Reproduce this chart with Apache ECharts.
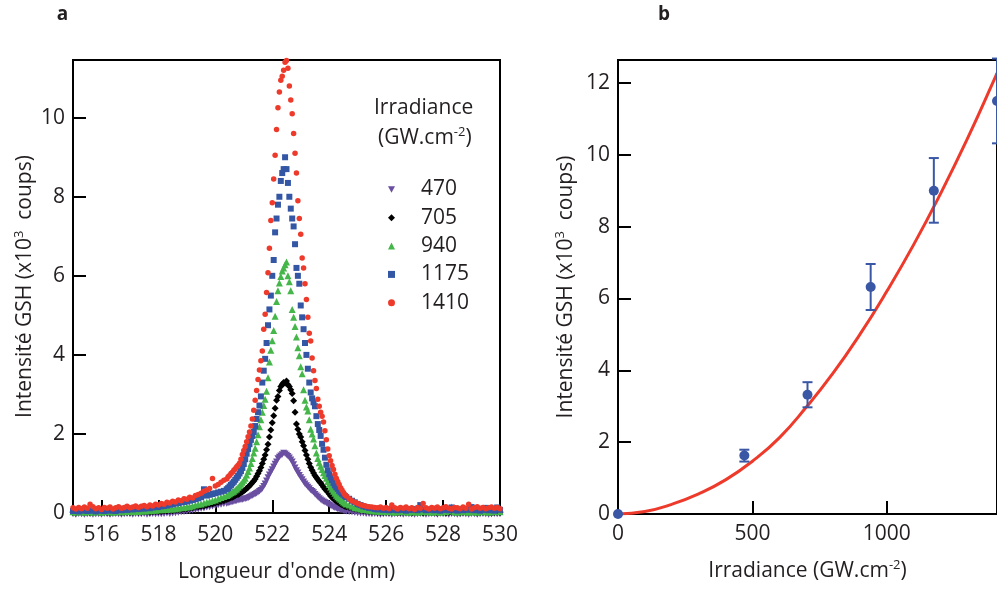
<!DOCTYPE html>
<html>
<head>
<meta charset="utf-8">
<script src="https://cdn.jsdelivr.net/npm/echarts@6/dist/echarts.min.js"></script>
<style>html,body{margin:0;padding:0;background:#fff}#c{width:997px;height:589px}</style>
</head>
<body>
<div id="c"></div>
<script>
// ---------- Panel a : wavelength sampling (nm) ----------
const wlLeft = [515,515.1,515.2,515.3,515.4,515.5,515.6,515.7,515.8,515.9,
516,516.1,516.2,516.3,516.4,516.5,516.6,516.7,516.8,516.9,
517,517.1,517.2,517.3,517.4,517.5,517.6,517.7,517.8,517.9,
518,518.1,518.2,518.3,518.4,518.5,518.6,518.7,518.8,518.9,
519,519.1,519.2,519.3,519.4,519.5,519.6,519.7,519.8,519.9,
520,520.1,520.2,520.3];
const wlCore = [520.4,520.45,520.5,520.55,520.6,520.65,520.7,520.75,520.8,520.85,520.9,520.95,
521,521.05,521.1,521.15,521.2,521.25,521.3,521.35,521.4,521.45,521.5,521.55,521.6,521.65,521.7,521.75,521.8,521.85,521.9,521.95,
522,522.05,522.1,522.15,522.2,522.25,522.3,522.35,522.4,522.45,522.5,522.55,522.6,522.65,522.7,522.75,522.8,522.85,522.9,522.95,
523,523.05,523.1,523.15,523.2,523.25,523.3,523.35,523.4,523.45,523.5,523.55,523.6,523.65,523.7,523.75,523.8,523.85,523.9,523.95,
524,524.05,524.1,524.15,524.2,524.25,524.3,524.35,524.4,524.45,524.5,524.55,524.6];
const wlRight = [524.7,524.8,524.9,
525,525.1,525.2,525.3,525.4,525.5,525.6,525.7,525.8,525.9,
526,526.1,526.2,526.3,526.4,526.5,526.6,526.7,526.8,526.9,
527,527.1,527.2,527.3,527.4,527.5,527.6,527.7,527.8,527.9,
528,528.1,528.2,528.3,528.4,528.5,528.6,528.7,528.8,528.9,
529,529.1,529.2,529.3,529.4,529.5,529.6,529.7,529.8,529.9,
530];

// ---------- Panel a : GSH intensity (x10^3 counts) per irradiance ----------
const gsh470 = [-0.03,-0.04,-0.02,-0.03,-0.04,-0.03,-0.02,-0.04,-0.03,-0.03,
-0.04,-0.02,-0.03,-0.04,-0.03,-0.02,-0.03,-0.04,-0.03,-0.02,
-0.03,-0.04,-0.02,-0.03,-0.03,-0.02,-0.04,-0.03,-0.02,-0.03,
-0.02,-0.03,-0.02,-0.01,-0.02,-0.01,0.00,0.01,0.02,0.03,
0.04,0.05,0.07,0.08,0.09,0.11,0.12,0.14,0.15,0.17,
0.18,0.20,0.21,0.23,
0.24,0.25,0.26,0.27,0.28,0.29,0.30,0.31,0.32,0.33,0.33,0.34,
0.35,0.36,0.37,0.38,0.40,0.42,0.44,0.46,0.48,0.50,0.52,0.55,0.58,0.62,0.68,0.74,0.82,0.90,0.97,1.04,
1.10,1.17,1.24,1.30,1.38,1.42,1.45,1.48,1.52,1.50,1.47,1.44,1.40,1.35,1.30,1.23,1.15,1.08,1.02,0.96,
0.90,0.85,0.79,0.74,0.70,0.66,0.62,0.58,0.55,0.52,0.48,0.44,0.41,0.37,0.34,0.31,0.29,0.27,0.25,0.23,
0.21,0.19,0.17,0.15,0.13,0.12,0.10,0.09,0.08,0.07,0.06,0.05,0.04,
0.03,0.02,0.01,
0.00,-0.01,-0.01,-0.02,-0.02,-0.03,-0.02,-0.03,-0.04,-0.03,
-0.02,-0.03,-0.04,-0.03,-0.02,-0.03,-0.04,-0.02,-0.03,-0.03,
-0.04,-0.03,-0.02,-0.03,-0.04,-0.03,-0.02,-0.03,-0.04,-0.02,
-0.03,-0.03,-0.04,-0.02,-0.03,-0.04,-0.03,-0.02,-0.03,-0.04,
-0.02,-0.03,-0.04,-0.03,-0.02,-0.03,-0.04,-0.03,-0.02,-0.03,
-0.03];
const gsh705 = [0.01,0.00,0.02,0.01,0.01,0.02,0.00,0.01,0.02,0.01,
0.01,0.02,0.01,0.00,0.02,0.01,0.02,0.01,0.02,0.02,
0.01,0.02,0.03,0.02,0.02,0.03,0.03,0.02,0.03,0.04,
0.04,0.04,0.05,0.05,0.06,0.06,0.07,0.08,0.09,0.10,
0.11,0.12,0.13,0.15,0.16,0.17,0.18,0.20,0.22,0.23,
0.25,0.27,0.29,0.31,
0.34,0.36,0.37,0.39,0.40,0.42,0.44,0.46,0.47,0.49,0.51,0.53,
0.56,0.59,0.62,0.65,0.69,0.73,0.77,0.81,0.86,0.93,1.00,1.07,1.15,1.25,1.36,1.47,1.60,1.74,1.92,2.10,
2.28,2.46,2.65,2.85,2.95,3.10,3.20,3.26,3.30,3.28,3.34,3.25,3.20,3.12,3.02,2.84,2.55,2.25,2.12,2.00,
1.92,1.80,1.70,1.58,1.47,1.36,1.25,1.16,1.08,1.01,0.95,0.90,0.85,0.80,0.76,0.71,0.66,0.61,0.57,0.53,
0.48,0.43,0.39,0.36,0.33,0.30,0.28,0.25,0.23,0.21,0.19,0.17,0.16,
0.14,0.12,0.10,
0.08,0.07,0.06,0.05,0.04,0.03,0.03,0.02,0.02,0.01,
0.02,0.01,0.01,0.02,0.00,0.01,0.02,0.01,0.01,0.00,
0.01,0.02,0.01,0.00,0.01,0.02,0.01,0.01,0.00,0.02,
0.01,0.00,0.01,0.02,0.01,0.01,0.00,0.02,0.01,0.01,
0.02,0.01,0.00,0.01,0.02,0.01,0.01,0.00,0.01,0.02,
0.01];
const gsh940 = [0.03,0.02,0.04,0.03,0.02,0.04,0.03,0.02,0.03,0.04,
0.02,0.03,0.04,0.03,0.02,0.03,0.04,0.03,0.03,0.04,
0.04,0.03,0.05,0.04,0.05,0.05,0.06,0.06,0.07,0.07,
0.08,0.08,0.09,0.09,0.10,0.10,0.11,0.12,0.13,0.14,
0.15,0.16,0.18,0.20,0.22,0.23,0.25,0.27,0.29,0.31,
0.33,0.36,0.39,0.42,
0.44,0.46,0.49,0.51,0.53,0.55,0.58,0.61,0.65,0.69,0.73,0.78,
0.83,0.88,0.96,1.05,1.14,1.25,1.38,1.52,1.64,1.80,1.98,2.18,2.36,2.55,2.72,2.88,3.08,3.42,3.82,4.12,
4.36,4.62,4.98,5.35,5.62,5.82,5.98,6.12,6.20,6.28,6.35,6.00,5.85,5.62,5.15,4.95,4.72,4.45,4.18,3.98,
3.70,3.52,3.12,2.85,2.68,2.58,2.36,2.12,2.00,1.87,1.70,1.52,1.38,1.27,1.18,1.10,1.02,0.95,0.88,0.80,
0.73,0.66,0.60,0.55,0.50,0.45,0.41,0.38,0.35,0.31,0.28,0.25,0.23,
0.20,0.17,0.14,
0.12,0.10,0.09,0.08,0.07,0.06,0.05,0.05,0.04,0.04,
0.03,0.04,0.03,0.02,0.04,0.03,0.05,0.03,0.02,0.04,
0.03,0.02,0.04,0.03,0.05,0.03,0.02,0.04,0.03,0.02,
0.04,0.03,0.05,0.15,0.03,0.02,0.04,0.03,0.05,0.02,
0.03,0.04,0.02,0.03,0.05,0.03,0.02,0.04,0.03,0.12,
0.03];
const gsh1175 = [0.05,0.07,0.04,0.06,0.08,0.05,0.07,0.06,0.04,0.07,
0.06,0.05,0.08,0.06,0.07,0.05,0.08,0.07,0.09,0.08,
0.10,0.09,0.11,0.10,0.12,0.11,0.13,0.12,0.14,0.15,
0.15,0.17,0.18,0.19,0.21,0.22,0.24,0.25,0.27,0.28,
0.29,0.31,0.33,0.35,0.37,0.40,0.60,0.44,0.46,0.48,
0.50,0.52,0.54,0.56,
0.60,0.63,0.67,0.71,0.75,0.79,0.84,0.89,0.94,1.00,1.06,1.14,
1.24,1.36,1.50,1.62,1.74,1.85,1.95,2.05,2.20,2.38,2.55,2.72,2.95,3.30,3.60,3.90,4.30,4.75,5.15,5.50,
6.00,6.40,7.10,7.45,7.80,8.00,8.40,8.60,8.70,9.00,8.70,8.35,8.00,7.70,7.45,7.25,6.80,6.20,6.00,5.80,
5.25,4.95,4.65,4.30,4.00,3.65,3.30,3.05,2.90,2.80,2.70,2.45,2.25,2.10,1.95,1.75,1.60,1.40,1.22,1.08,
0.98,0.90,0.83,0.76,0.70,0.65,0.61,0.56,0.52,0.49,0.46,0.43,0.40,
0.36,0.31,0.27,
0.23,0.20,0.17,0.15,0.13,0.12,0.10,0.09,0.10,0.08,
0.09,0.07,0.10,0.08,0.07,0.09,0.08,0.06,0.09,0.08,
0.10,0.07,0.20,0.09,0.07,0.08,0.10,0.07,0.09,0.06,
0.08,0.10,0.07,0.14,0.08,0.06,0.09,0.07,0.10,0.08,
0.15,0.07,0.09,0.06,0.08,0.13,0.07,0.09,0.06,0.14,
0.08];
const gsh1410 = [0.13,0.10,0.14,0.11,0.15,0.12,0.22,0.16,0.11,0.13,
0.09,0.14,0.12,0.15,0.10,0.13,0.16,0.12,0.14,0.17,
0.13,0.15,0.18,0.14,0.17,0.19,0.16,0.20,0.18,0.22,
0.20,0.24,0.22,0.27,0.25,0.30,0.28,0.33,0.31,0.36,
0.35,0.40,0.38,0.44,0.47,0.50,0.55,0.58,0.62,0.87,
0.68,0.72,0.78,0.83,
0.86,0.92,0.95,1.00,1.03,1.08,1.12,1.17,1.21,1.26,1.36,1.48,
1.58,1.68,1.80,1.93,2.05,2.20,2.38,2.60,2.85,3.10,3.38,3.62,3.85,4.10,4.65,5.03,5.58,6.08,6.70,7.40,
7.85,8.45,9.05,9.70,10.25,10.65,10.95,11.05,11.20,11.40,11.45,11.25,10.80,10.45,10.10,9.60,9.10,8.60,7.90,7.45,
7.05,6.45,6.20,5.80,5.40,4.95,4.55,4.35,3.92,3.60,3.35,3.15,2.88,2.70,2.55,2.45,2.30,2.08,1.85,1.62,
1.45,1.32,1.20,1.10,0.98,0.88,0.80,0.72,0.64,0.58,0.52,0.46,0.43,
0.36,0.31,0.27,
0.24,0.21,0.19,0.17,0.16,0.15,0.14,0.13,0.15,0.12,
0.14,0.11,0.20,0.13,0.10,0.14,0.12,0.15,0.11,0.13,
0.09,0.14,0.12,0.24,0.13,0.10,0.14,0.12,0.15,0.11,
0.13,0.16,0.12,0.10,0.14,0.13,0.11,0.15,0.12,0.22,
0.10,0.13,0.16,0.12,0.14,0.11,0.13,0.15,0.12,0.14,
0.11];
const irradianceNames = ['470','705','940','1175','1410'];
const xTicksA = [516,518,520,522,524,526,528,530];
const yTicksA = [0,2,4,6,8,10];

// ---------- Panel b ----------
const irrB = [0,470,705,940,1175,1410];
const gshB = [0,1.63,3.32,6.32,9.0,11.5];
const errLowB = [0,1.46,2.97,5.68,8.11,10.32];
const errHighB = [0,1.79,3.67,6.96,9.91,12.68];
const fitX = [0,100,200,300,400,500,600,700,800,900,1000,1100,1200,1300,1400,1410];
const fitY = [0,0.07,0.27,0.56,0.95,1.47,2.12,2.97,3.92,5.0,6.2,7.5,8.92,10.45,12.1,12.28];
const xTicksB = [0,500,1000];
const yTicksB = [0,2,4,6,8,10,12];

// ---------- build ----------
const FONT = '"Open Sans", sans-serif';
const TXT = '#231f20';
const wl = wlLeft.concat(wlCore, wlRight);
function pts(v, name) {
  if (v.length !== wl.length) throw new Error('length mismatch ' + name + ': ' + v.length + ' vs ' + wl.length);
  return wl.map((x, i) => [x, v[i]]);
}
const INV_TRIANGLE = 'path://M0,0L10,0L5,9Z';
const seriesA = [
  {name: irradianceNames[0], vals: gsh470, symbol: INV_TRIANGLE, size: [7, 6.3], color: '#6a4ea1'},
  {name: irradianceNames[1], vals: gsh705, symbol: 'diamond', size: 7, color: '#000000'},
  {name: irradianceNames[2], vals: gsh940, symbol: 'triangle', size: 7, color: '#45b649'},
  {name: irradianceNames[3], vals: gsh1175, symbol: 'rect', size: 6, color: '#3356a5'},
  {name: irradianceNames[4], vals: gsh1410, symbol: 'circle', size: 5.5, color: '#ee3a2b'}
];
const supStyle = {fontSize: 13, verticalAlign: 'top', fontFamily: FONT, color: TXT, lineHeight: 24};
function axisBase(ticks, margin) {
  return {
    type: 'value',
    nameLocation: 'middle',
    nameTextStyle: {fontSize: 21, fontFamily: FONT, color: TXT, lineHeight: 24, rich: {sup: supStyle}},
    axisLine: {show: true, onZero: false, lineStyle: {color: '#000', width: 2}},
    axisTick: {show: true, inside: true, length: 13, lineStyle: {color: '#000', width: 2}, customValues: ticks},
    axisLabel: {color: TXT, fontFamily: FONT, fontSize: 21, margin: margin, customValues: ticks,
      formatter: function (v) { return String(v); }},
    splitLine: {show: false}
  };
}

const chart = echarts.init(document.getElementById('c'));
const series = seriesA.map(s => ({
  name: s.name, type: 'scatter', xAxisIndex: 0, yAxisIndex: 0,
  data: pts(s.vals, s.name), symbol: s.symbol, symbolSize: s.size,
  itemStyle: {color: s.color, opacity: 1}, clip: false, silent: true
}));
series.push({
  type: 'line', xAxisIndex: 1, yAxisIndex: 1, data: fitX.map((x, i) => [x, fitY[i]]),
  smooth: true, symbol: 'none', lineStyle: {color: '#ee3a2b', width: 3}, clip: false, silent: true, z: 2
});
series.push({
  type: 'custom', xAxisIndex: 1, yAxisIndex: 1, clip: false, silent: true, z: 3,
  data: irrB.map((x, i) => [x, errLowB[i], errHighB[i]]).filter(d => d[2] > d[1]),
  renderItem: function (params, api) {
    const x = api.value(0);
    const lo = api.coord([x, api.value(1)]);
    const hi = api.coord([x, api.value(2)]);
    const w = 5;
    const st = {stroke: '#3a57a6', lineWidth: 2};
    return {type: 'group', children: [
      {type: 'line', shape: {x1: lo[0], y1: lo[1], x2: hi[0], y2: hi[1]}, style: st},
      {type: 'line', shape: {x1: lo[0] - w, y1: lo[1], x2: lo[0] + w, y2: lo[1]}, style: st},
      {type: 'line', shape: {x1: hi[0] - w, y1: hi[1], x2: hi[0] + w, y2: hi[1]}, style: st}
    ]};
  }
});
series.push({
  type: 'scatter', xAxisIndex: 1, yAxisIndex: 1, data: irrB.map((x, i) => [x, gshB[i]]),
  symbol: 'circle', symbolSize: 10, itemStyle: {color: '#3a57a6', opacity: 1}, clip: false, silent: true, z: 4
});

const option = {
  animation: false,
  backgroundColor: '#ffffff',
  textStyle: {fontFamily: FONT, color: TXT},
  grid: [
    {left: 73, top: 60, width: 427, height: 454, show: true, borderColor: '#000', borderWidth: 2},
    {left: 618, top: 60, width: 381, height: 454, show: true, borderColor: '#000', borderWidth: 2}
  ],
  xAxis: [
    Object.assign(axisBase(xTicksA, 12), {gridIndex: 0, min: 515, max: 530, name: "Longueur d'onde (nm)", nameGap: 47}),
    Object.assign(axisBase(xTicksB, 10), {gridIndex: 1, min: 0, max: 1410, name: 'Irradiance (GW.cm{sup|-2})', nameGap: 45})
  ],
  yAxis: [
    Object.assign(axisBase(yTicksA, 8), {gridIndex: 0, min: 0, max: 11.46, name: 'Intensité GSH (x10{sup|3}  coups)', nameGap: 35}),
    Object.assign(axisBase(yTicksB, 8), {gridIndex: 1, min: 0, max: 12.64, name: 'Intensité GSH (x10{sup|3}  coups)', nameGap: 40})
  ],
  legend: {
    data: irradianceNames, orient: 'vertical', left: 388, top: 179, padding: 0,
    itemWidth: 7, itemHeight: 7, itemGap: 7.3, selectedMode: false,
    textStyle: {fontSize: 21, fontFamily: FONT, color: TXT, padding: [0, 0, 0, 21]}
  },
  graphic: [
    {type: 'text', x: 62.5, y: 15, style: {text: 'a', font: 'bold 19px "Open Sans"', fill: TXT, align: 'center', verticalAlign: 'middle'}},
    {type: 'text', x: 664, y: 15, style: {text: 'b', font: 'bold 19px "Open Sans"', fill: TXT, align: 'center', verticalAlign: 'middle'}},
    {type: 'text', x: 374, y: 108, style: {text: 'Irradiance', font: '21px "Open Sans"', fill: TXT, align: 'left', verticalAlign: 'middle'}},
    {type: 'text', x: 378, y: 138, style: {text: '(GW.cm{sup|-2})', fontSize: 21, fontFamily: FONT, fill: TXT, align: 'left', verticalAlign: 'middle',
      rich: {sup: {fontSize: 13, verticalAlign: 'top', fontFamily: FONT, fill: TXT, lineHeight: 24}}, lineHeight: 24}}
  ],
  series: series
};
chart.setOption(option);
</script>
</body>
</html>
